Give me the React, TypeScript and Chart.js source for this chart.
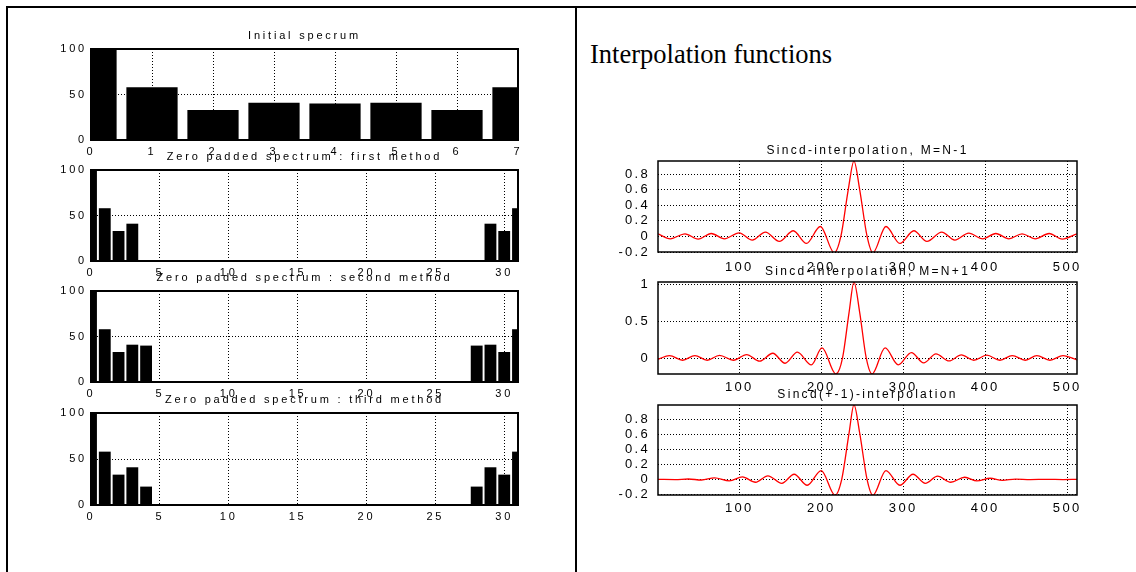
import React, { useEffect, useRef } from "react";
import { Chart, registerables } from "chart.js";

Chart.register(...registerables);

const FONT = "'Liberation Sans', Arial, Helvetica, sans-serif";

// ---------- Left panel: spectra ----------
const initialBins = [0, 1, 2, 3, 4, 5, 6, 7];
const initialSpectrum = [100, 58, 33, 41, 40, 41, 33, 58];

const paddedBins = [
  0, 1, 2, 3, 4, 5, 6, 7, 8, 9, 10, 11, 12, 13, 14, 15,
  16, 17, 18, 19, 20, 21, 22, 23, 24, 25, 26, 27, 28, 29, 30, 31,
];
const firstMethod = [
  100, 58, 33, 41, 0, 0, 0, 0, 0, 0, 0, 0, 0, 0, 0, 0,
  0, 0, 0, 0, 0, 0, 0, 0, 0, 0, 0, 0, 0, 41, 33, 58,
];
const secondMethod = [
  100, 58, 33, 41, 40, 0, 0, 0, 0, 0, 0, 0, 0, 0, 0, 0,
  0, 0, 0, 0, 0, 0, 0, 0, 0, 0, 0, 0, 40, 41, 33, 58,
];
const thirdMethod = [
  100, 58, 33, 41, 20, 0, 0, 0, 0, 0, 0, 0, 0, 0, 0, 0,
  0, 0, 0, 0, 0, 0, 0, 0, 0, 0, 0, 0, 20, 41, 33, 58,
];

const leftTitles = [
  "Initial specrum",
  "Zero padded spectrum : first method",
  "Zero padded spectrum : second method",
  "Zero padded spectrum : third method",
];

// ---------- Right panel: interpolation functions ----------
const panelHeading = "Interpolation functions";

const sincdMinusX = [1, 16, 34, 50, 66, 82, 100, 116, 132, 149, 166, 182, 199, 216, 224, 233, 240, 247, 256, 263, 279, 296, 313, 329, 347, 363, 380, 397, 413, 429, 445, 461, 478, 494, 512];
const sincdMinusY = [0.034, -0.03, 0.034, -0.034, 0.038, -0.03, 0.047, -0.047, 0.056, -0.064, 0.073, -0.09, 0.128, -0.21, 0.0, 0.6, 0.97, 0.6, 0.0, -0.21, 0.128, -0.09, 0.073, -0.064, 0.056, -0.047, 0.043, -0.03, 0.038, -0.03, 0.034, -0.03, 0.038, -0.034, 0.034];

const sincdPlusX = [1, 15, 31, 46, 61, 76, 93, 109, 125, 141, 156, 171, 188, 201, 218, 226, 234, 240, 247, 255, 262, 278, 294, 310, 325, 340, 356, 371, 386, 402, 418, 433, 449, 463, 479, 495, 512];
const sincdPlusY = [-0.014, 0.036, -0.027, 0.036, -0.027, 0.04, -0.027, 0.05, -0.04, 0.068, -0.068, 0.082, -0.09, 0.14, -0.214, 0.0, 0.62, 1.035, 0.62, 0.0, -0.214, 0.14, -0.09, 0.077, -0.064, 0.059, -0.036, 0.045, -0.027, 0.041, -0.027, 0.036, -0.027, 0.036, -0.027, 0.036, -0.023];

const sincdPmX = [1, 22, 38, 54, 70, 88, 104, 120, 135, 152, 167, 183, 200, 217, 225, 234, 240, 247, 256, 263, 279, 296, 312, 327, 342, 358, 375, 390, 406, 421, 437, 455, 475, 495, 512];
const sincdPmY = [0.003, 0.0, 0.008, -0.006, 0.022, -0.018, 0.036, -0.036, 0.05, -0.05, 0.071, -0.076, 0.12, -0.21, 0.0, 0.62, 1.0, 0.62, 0.0, -0.21, 0.12, -0.076, 0.071, -0.05, 0.045, -0.036, 0.031, -0.018, 0.018, -0.01, 0.006, 0.0, 0.004, 0.0, 0.003];

const rightTitles = [
  "Sincd-interpolation, M=N-1",
  "Sincd-interpolation, M=N+1",
  "Sincd(+-1)-interpolation",
];

// ---------- helpers ----------
type Box = {
  plotLeft: number;
  plotTop: number;
  plotW: number;
  plotH: number;
  yW: number;
  xH: number;
  titleH: number;
  rightPad: number;
};

const spacingPlugin = (px: string) => ({
  id: "letterSpacing",
  beforeUpdate(c: any) {
    c.ctx.letterSpacing = px;
  },
  beforeLayout(c: any) {
    c.ctx.letterSpacing = px;
  },
  beforeDraw(c: any) {
    c.ctx.letterSpacing = px;
  },
});

const framePlugin = (lw: number) => ({
  id: "frame",
  afterDatasetsDraw(chart: any) {
    const { ctx, chartArea: a } = chart;
    ctx.save();
    ctx.setLineDash([]);
    ctx.strokeStyle = "#000";
    ctx.lineWidth = lw;
    ctx.strokeRect(a.left, a.top, a.right - a.left, a.bottom - a.top);
    ctx.restore();
  },
});

function fmt(v: any) {
  const n = Math.round(Number(v) * 100) / 100;
  return String(n);
}

function barConfig(box: Box, title: string, bins: number[], values: number[], xMax: number, xStep: number, barPct: number) {
  const tickFont = { family: FONT, size: 11 };
  return {
    type: "bar",
    data: {
      datasets: [
        {
          data: bins.map((b, i) => ({ x: b, y: values[i] })),
          backgroundColor: "#000",
          borderWidth: 0,
          categoryPercentage: 1,
          barPercentage: barPct,
          clip: 0,
        },
      ],
    },
    options: {
      responsive: false,
      animation: false,
      events: [],
      layout: { padding: { left: 0, right: box.rightPad, top: 0, bottom: 0 } },
      plugins: {
        legend: { display: false },
        tooltip: { enabled: false },
        title: {
          display: true,
          text: title,
          fullSize: false,
          color: "#000",
          font: { family: FONT, size: 11, weight: "normal", lineHeight: "12px" },
          padding: { top: 0, bottom: box.titleH - 12 },
        },
      },
      scales: {
        x: {
          type: "linear",
          min: 0,
          max: xMax,
          offset: false,
          grid: { offset: false, color: "#000", lineWidth: 1, drawTicks: false },
          border: { display: false, dash: [1, 2] },
          ticks: {
            stepSize: xStep,
            includeBounds: false,
            padding: 5,
            color: "#000",
            font: tickFont,
            maxRotation: 0,
            autoSkip: false,
          },
          afterFit: (s: any) => {
            s.height = box.xH;
            s.paddingLeft = 0;
            s.paddingRight = 0;
          },
        },
        y: {
          min: 0,
          max: 100,
          grid: { color: "#000", lineWidth: 1, drawTicks: false },
          border: { display: false, dash: [1, 2] },
          ticks: { stepSize: 50, padding: 4, color: "#000", font: tickFont, autoSkip: false },
          afterFit: (s: any) => {
            s.width = box.yW;
            s.paddingTop = 0;
            s.paddingBottom = 0;
          },
        },
      },
    },
    plugins: [spacingPlugin("2.8px"), framePlugin(2)],
  };
}

function lineConfig(box: Box, title: string, xs: number[], ys: number[], yMin: number, yMax: number, yStep: number, xPad: number) {
  const tickFont = { family: FONT, size: 13 };
  return {
    type: "line",
    data: {
      datasets: [
        {
          data: xs.map((x, i) => ({ x, y: ys[i] })),
          borderColor: "#ff0000",
          borderWidth: 1.3,
          pointRadius: 0,
          fill: false,
          cubicInterpolationMode: "monotone",
          clip: 0,
        },
      ],
    },
    options: {
      responsive: false,
      animation: false,
      events: [],
      layout: { padding: { left: 0, right: box.rightPad, top: 0, bottom: 0 } },
      plugins: {
        legend: { display: false },
        tooltip: { enabled: false },
        title: {
          display: true,
          text: title,
          fullSize: false,
          color: "#000",
          font: { family: FONT, size: 12, weight: "normal", lineHeight: "12px" },
          padding: { top: 0, bottom: box.titleH - 12 },
        },
      },
      scales: {
        x: {
          type: "linear",
          min: 1,
          max: 512,
          grid: { color: "#000", lineWidth: 1, drawTicks: false },
          border: { display: false, dash: [1, 2] },
          ticks: {
            stepSize: 100,
            includeBounds: false,
            padding: xPad,
            color: "#000",
            font: tickFont,
            maxRotation: 0,
            autoSkip: false,
          },
          afterFit: (s: any) => {
            s.height = box.xH;
            s.paddingLeft = 0;
            s.paddingRight = 0;
          },
        },
        y: {
          min: yMin,
          max: yMax,
          grid: { color: "#000", lineWidth: 1, drawTicks: false },
          border: { display: false, dash: [1, 2] },
          ticks: {
            stepSize: yStep,
            includeBounds: false,
            padding: 8,
            color: "#000",
            font: tickFont,
            autoSkip: false,
            callback: (v: any) => fmt(v),
          },
          afterFit: (s: any) => {
            s.width = box.yW;
            s.paddingTop = 0;
            s.paddingBottom = 0;
          },
        },
      },
    },
    plugins: [spacingPlugin("2.3px"), framePlugin(1.5)],
  };
}

function ChartCanvas({ box, build }: { box: Box; build: () => any }) {
  const ref = useRef<HTMLCanvasElement | null>(null);
  useEffect(() => {
    if (!ref.current) return;
    const chart = new Chart(ref.current, build());
    return () => chart.destroy();
  }, []);
  const w = box.yW + box.plotW + box.rightPad;
  const h = box.titleH + box.plotH + box.xH;
  return (
    <div
      style={{
        position: "absolute",
        left: box.plotLeft - box.yW,
        top: box.plotTop - box.titleH,
        width: w,
        height: h,
      }}
    >
      <canvas ref={ref} width={w} height={h} />
    </div>
  );
}

const leftBox = (top: number, h: number): Box => ({
  plotLeft: 91,
  plotTop: top,
  plotW: 427,
  plotH: h,
  yW: 40,
  xH: 18,
  titleH: 19,
  rightPad: 20,
});

const rightBox = (top: number, h: number): Box => ({
  plotLeft: 658,
  plotTop: top,
  plotW: 419,
  plotH: h,
  yW: 45,
  xH: 26,
  titleH: 16,
  rightPad: 25,
});

export default function App() {
  const L1 = leftBox(49, 91);
  const L2 = leftBox(170, 91);
  const L3 = leftBox(291, 91);
  const L4 = leftBox(413, 92);
  const R1 = rightBox(161, 91);
  const R2 = rightBox(282, 92);
  const R3 = rightBox(405, 90);

  return (
    <div
      style={{
        position: "absolute",
        left: 0,
        top: 0,
        width: 1136,
        height: 572,
        overflow: "hidden",
        background: "#fff",
      }}
    >
      {/* frame lines */}
      <div style={{ position: "absolute", left: 6, top: 6, width: 1130, height: 2, background: "#000" }} />
      <div style={{ position: "absolute", left: 6, top: 6, width: 2, height: 566, background: "#000" }} />
      <div style={{ position: "absolute", left: 575, top: 6, width: 2, height: 566, background: "#000" }} />

      <div
        style={{
          position: "absolute",
          left: 590,
          top: 41,
          fontFamily: "'Liberation Serif', 'Times New Roman', Times, serif",
          fontSize: 26.5,
          lineHeight: 1,
          whiteSpace: "nowrap",
          color: "#000",
        }}
      >
        {panelHeading}
      </div>

      <ChartCanvas box={L1} build={() => barConfig(L1, leftTitles[0], initialBins, initialSpectrum, 7, 1, 0.84)} />
      <ChartCanvas box={L2} build={() => barConfig(L2, leftTitles[1], paddedBins, firstMethod, 31, 5, 0.86)} />
      <ChartCanvas box={L3} build={() => barConfig(L3, leftTitles[2], paddedBins, secondMethod, 31, 5, 0.86)} />
      <ChartCanvas box={L4} build={() => barConfig(L4, leftTitles[3], paddedBins, thirdMethod, 31, 5, 0.86)} />

      <ChartCanvas box={R1} build={() => lineConfig(R1, rightTitles[0], sincdMinusX, sincdMinusY, -0.2, 0.97, 0.2, 8)} />
      <ChartCanvas box={R2} build={() => lineConfig(R2, rightTitles[1], sincdPlusX, sincdPlusY, -0.214, 1.035, 0.5, 6)} />
      <ChartCanvas box={R3} build={() => lineConfig(R3, rightTitles[2], sincdPmX, sincdPmY, -0.206, 0.996, 0.2, 6)} />
    </div>
  );
}
